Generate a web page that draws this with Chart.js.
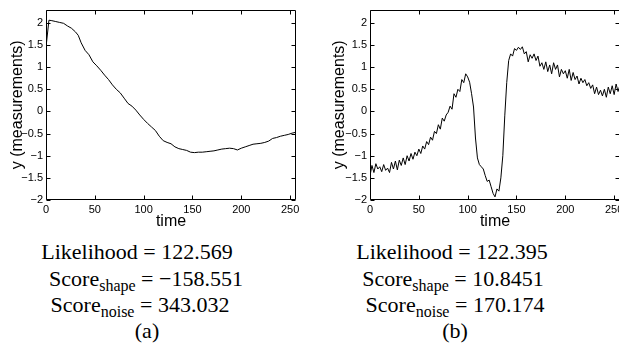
<!DOCTYPE html>
<html><head><meta charset="utf-8">
<script src="https://cdn.jsdelivr.net/npm/chart.js@4"></script>
<style>
html,body{margin:0;padding:0;background:#fff;width:619px;height:345px;overflow:hidden;position:relative}
canvas{position:absolute;top:0}
.cap{position:absolute;font-family:"Liberation Serif","DejaVu Serif",serif;font-size:22px;color:#000;white-space:nowrap;transform:translateX(-50%);line-height:1}
.cap sub{font-size:16px;vertical-align:baseline;position:relative;top:5px}
</style></head><body>
<canvas id="c1" width="310" height="235" style="left:0"></canvas>
<canvas id="c2" width="320" height="235" style="left:310px"></canvas>
<div class="cap" style="left:137px;top:241px">Likelihood = 122.569</div>
<div class="cap" style="left:146px;top:268px">Score<sub>shape</sub> = −158.551</div>
<div class="cap" style="left:140px;top:294px">Score<sub>noise</sub> = 343.032</div>
<div class="cap" style="left:147px;top:320px">(a)</div>
<div class="cap" style="left:452px;top:241px">Likelihood = 122.395</div>
<div class="cap" style="left:453px;top:268px">Score<sub>shape</sub> = 10.8451</div>
<div class="cap" style="left:455px;top:294px">Score<sub>noise</sub> = 170.174</div>
<div class="cap" style="left:455px;top:320px">(b)</div>
<script>
// ---- data ----
const timeA = [0,3,6,10,14,18,22,26,30,33,36,40,44,48,52,56,60,64,68,72,76,80,84,88,92,96,100,104,108,112,116,120,124,128,132,136,140,144,148,152,156,160,164,168,172,176,180,184,188,192,196,200,204,208,212,216,220,224,228,232,236,240,244,248,252,256];
const valuesA = [1.45,2.06,2.05,2.03,2.01,1.99,1.93,1.88,1.80,1.72,1.55,1.38,1.28,1.12,1.03,0.93,0.82,0.72,0.60,0.50,0.42,0.30,0.18,0.12,0.03,-0.08,-0.18,-0.27,-0.35,-0.43,-0.56,-0.66,-0.70,-0.73,-0.80,-0.84,-0.86,-0.88,-0.92,-0.93,-0.92,-0.92,-0.91,-0.90,-0.89,-0.87,-0.85,-0.84,-0.83,-0.84,-0.87,-0.83,-0.80,-0.77,-0.74,-0.73,-0.72,-0.70,-0.67,-0.61,-0.59,-0.56,-0.54,-0.52,-0.49,-0.47];
const timeB = [0,2,4,6,8,10,12,14,16,18,20,22,24,26,28,30,32,34,36,38,40,42,44,46,48,50,52,54,56,58,60,62,64,66,68,70,72,74,76,78,80,82,84,86,88,90,92,94,96,98,100,102,104,106,108,110,112,114,116,118,120,122,124,126,128,130,132,134,136,138,140,142,144,146,148,150,152,154,156,158,160,162,164,166,168,170,172,174,176,178,180,182,184,186,188,190,192,194,196,198,200,202,204,206,208,210,212,214,216,218,220,222,224,226,228,230,232,234,236,238,240,242,244,246,248,250,252,254,256];
const valuesB = [-1.45,-1.22,-1.38,-1.18,-1.30,-1.25,-1.36,-1.20,-1.33,-1.28,-1.38,-1.15,-1.30,-1.12,-1.32,-1.10,-1.22,-1.05,-1.20,-1.00,-1.12,-0.95,-1.08,-0.92,-1.00,-0.85,-0.95,-0.78,-0.85,-0.68,-0.75,-0.58,-0.65,-0.45,-0.50,-0.30,-0.40,-0.15,-0.22,-0.08,-0.02,0.12,0.05,0.40,0.32,0.50,0.45,0.72,0.65,0.85,0.78,0.66,0.40,0.10,-0.60,-1.05,-1.20,-1.25,-1.30,-1.45,-1.58,-1.55,-1.70,-1.85,-1.93,-1.75,-1.80,-1.50,-1.00,-0.10,0.65,1.15,1.30,1.25,1.42,1.38,1.45,1.40,1.46,1.30,1.35,1.12,1.28,1.20,1.30,1.15,1.25,1.02,1.10,0.95,1.12,0.90,1.05,0.85,1.10,0.95,1.05,0.78,0.95,0.85,0.92,0.75,0.95,0.70,0.88,0.72,0.80,0.62,0.75,0.65,0.72,0.58,0.65,0.52,0.60,0.40,0.55,0.38,0.48,0.35,0.50,0.32,0.55,0.40,0.58,0.38,0.62,0.45,0.60];
const xTicks = [0,50,100,150,200,250];
const yTicks = [-2,-1.5,-1,-0.5,0,0.5,1,1.5,2];
const xRange = [0,256];
const yRange = [-2,2.3];
const xTitle = 'time';
const yTitle = 'y (measurements)';

const fmt = v => String(v).replace('-', '\u2212');
const tickFont = {family:'"Liberation Sans", Arial, sans-serif', size:11};
const titleFont = {family:'"Liberation Sans", Arial, sans-serif', size:16};

const boxPlugin = {
  id:'box',
  afterDraw(chart){
    const {ctx, chartArea:a, scales:{x,y}} = chart;
    ctx.save();
    ctx.strokeStyle = '#000';
    ctx.lineWidth = 1;
    ctx.beginPath();
    const L=Math.round(a.left)+0.5, R=Math.round(a.right)-0.5, T=Math.round(a.top)+0.5, B=Math.round(a.bottom)-0.5;
    ctx.moveTo(L,T);ctx.lineTo(R,T);ctx.lineTo(R,B);ctx.lineTo(L,B);ctx.closePath();
    xTicks.forEach(v=>{const p=Math.round(x.getPixelForValue(v))+0.5;ctx.moveTo(p,B);ctx.lineTo(p,B-4);ctx.moveTo(p,T);ctx.lineTo(p,T+4);});
    yTicks.forEach(v=>{const p=Math.round(y.getPixelForValue(v))+0.5;ctx.moveTo(L,p);ctx.lineTo(L+4,p);ctx.moveTo(R,p);ctx.lineTo(R-4,p);});
    ctx.stroke();
    ctx.restore();
  }
};

function makeChart(id, times, values, yWidth, padRight, yTitlePad){
  new Chart(document.getElementById(id), {
    type:'line',
    data:{datasets:[{data:times.map((t,i)=>({x:t,y:values[i]})), borderColor:'#000', borderWidth:1, pointRadius:0, tension:0, fill:false}]},
    options:{
      responsive:false, animation:false, devicePixelRatio:1,
      layout:{padding:{top:3,right:padRight,left:0,bottom:0}},
      plugins:{legend:{display:false}, tooltip:{enabled:false}},
      scales:{
        x:{type:'linear', min:xRange[0], max:xRange[1],
           grid:{display:false, drawTicks:false}, border:{display:false},
           ticks:{font:tickFont, color:'#000', padding:3, maxRotation:0, callback:v=>fmt(v)},
           afterBuildTicks:s=>{s.ticks = xTicks.map(v=>({value:v}));},
           afterFit:s=>{s.height=35;},
           title:{display:true, text:xTitle, font:titleFont, color:'#000', padding:{top:0,bottom:4}}},
        y:{type:'linear', min:yRange[0], max:yRange[1],
           grid:{display:false, drawTicks:false}, border:{display:false},
           ticks:{font:tickFont, color:'#000', padding:3, callback:v=>fmt(v)},
           afterBuildTicks:s=>{s.ticks = yTicks.map(v=>({value:v}));},
           afterFit:s=>{s.width=yWidth;},
           title:{display:true, text:yTitle, font:titleFont, color:'#000', padding:{top:yTitlePad,bottom:0}}}
      }
    },
    plugins:[boxPlugin]
  });
}
makeChart('c1', timeA, valuesA, 46, 14, 8);
makeChart('c2', timeB, valuesB, 60, 10, 20);
</script>
</body></html>
